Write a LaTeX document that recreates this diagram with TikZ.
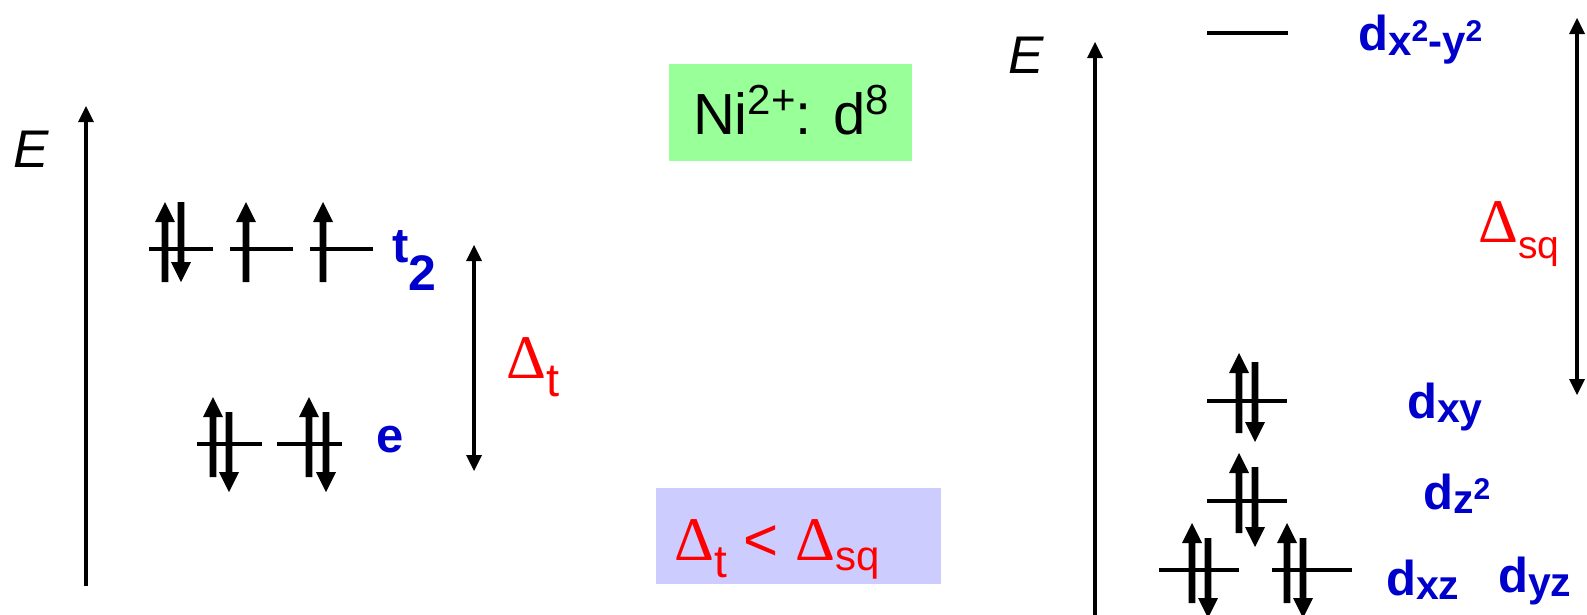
\documentclass[tikz,border=0pt]{standalone}
\usepackage{fontspec}
\setmainfont{Liberation Sans}
\newfontfamily\greekfont{Liberation Serif}
\usetikzlibrary{arrows.meta}
\definecolor{lblblue}{RGB}{0,0,204}
\definecolor{boxgreen}{RGB}{153,255,153}
\definecolor{boxblue}{RGB}{204,204,255}
\definecolor{dred}{RGB}{255,0,0}
\newcommand{\fs}[1]{\fontsize{#1}{#1}\selectfont}
\newcommand{\supb}[1]{\raisebox{14pt}{\fs{30}#1}}
\tikzset{
  level/.style={line width=4.5pt},
  axisarrow/.style={line width=4pt, -{Triangle[width=16pt,length=16pt,line width=0pt]}},
  gaparrow/.style={line width=3.5pt, {Triangle[width=16pt,length=16pt,line width=0pt]}-{Triangle[width=16pt,length=16pt,line width=0pt]}},
  elabel/.style={inner sep=0pt, anchor=base west, font=\fs{53}\itshape},
  orblabel/.style={inner sep=0pt, anchor=base west, text=lblblue, font=\fs{49}\bfseries},
  gaplabel/.style={inner sep=0pt, anchor=base west, text=dred, font=\fs{60}},
  spinup/.pic={\fill (0,0) -- (10,20) -- (3.4,20) -- (3.4,80) -- (-3.4,80) -- (-3.4,20) -- (-10,20) -- cycle;},
  spindown/.pic={\fill (0,0) -- (10,-20) -- (3.4,-20) -- (3.4,-80) -- (-3.4,-80) -- (-3.4,-20) -- (-10,-20) -- cycle;},
}
\begin{document}
\begin{tikzpicture}[x=1pt,y=-1pt]
\useasboundingbox (0,0) rectangle (1587,614);
\fill[white] (0,0) rectangle (1587,614);

% boxes
\node[fill=boxgreen, minimum width=243pt, minimum height=97pt, inner sep=0pt] (nibox) at (790.5,112.5) {};
\node[inner sep=0pt, anchor=base, font=\fs{58}] (ni) at (791,134)
  {Ni\raisebox{20pt}{\fs{42}2+}: d\raisebox{20pt}{\fs{42}8}};
\node[fill=boxblue, minimum width=285pt, minimum height=96pt, inner sep=0pt] (cmpbox) at (798.5,536) {};
\node[gaplabel] (cmp) at (674,560)
  {{\greekfont\fs{62}Δ}\raisebox{-17pt}{\fs{46}t} < {\greekfont\fs{62}Δ}\raisebox{-10pt}{\fs{42}sq}};

% ---------- left diagram ----------
\coordinate (Lb) at (86,586);
\coordinate (Lt) at (86,106);
\draw[axisarrow] (Lb) -- (Lt);
\node[elabel] (E1) at (13,167) {E};

\coordinate (t2a1) at (149,249); \coordinate (t2a2) at (213,249);
\coordinate (t2b1) at (230,249); \coordinate (t2b2) at (293,249);
\coordinate (t2c1) at (310,249); \coordinate (t2c2) at (373,249);
\draw[level] (t2a1) -- (t2a2);
\draw[level] (t2b1) -- (t2b2);
\draw[level] (t2c1) -- (t2c2);
\pic at (165,202) {spinup};
\pic at (181,282) {spindown};
\pic at (246,202) {spinup};
\pic at (323,202) {spinup};
\node[orblabel] (t2) at (392,262) {t\raisebox{-28pt}{\fs{50}2}};

\coordinate (ea1) at (197,444); \coordinate (ea2) at (262,444);
\coordinate (eb1) at (277,444); \coordinate (eb2) at (342,444);
\draw[level] (ea1) -- (ea2);
\draw[level] (eb1) -- (eb2);
\pic at (213,397) {spinup};
\pic at (229,492) {spindown};
\pic at (309,397) {spinup};
\pic at (326,492) {spindown};
\node[orblabel] (e) at (376,452) {e};

\coordinate (DtT) at (474,245);
\coordinate (DtB) at (474,471);
\draw[gaparrow] (DtT) -- (DtB);
\node[gaplabel] (Dt) at (506,378) {{\greekfont\fs{62}Δ}\raisebox{-18pt}{\fs{47}t}};

% ---------- right diagram ----------
\coordinate (Rb) at (1095,630);
\coordinate (Rt) at (1095,42);
\draw[axisarrow] (Rb) -- (Rt);
\node[elabel] (E2) at (1008,73) {E};

\coordinate (x1) at (1207,33); \coordinate (x2) at (1288,33);
\draw[level] (x1) -- (x2);
\node[orblabel] (dx2y2) at (1358,50) {d\raisebox{-5pt}{\fs{42}x\supb{2}-y\supb{2}}};

\coordinate (xy1) at (1207,401); \coordinate (xy2) at (1287,401);
\draw[level] (xy1) -- (xy2);
\pic at (1239,353) {spinup};
\pic at (1255,442) {spindown};
\node[orblabel] (dxy) at (1407,418) {d\raisebox{-4pt}{\fs{41}xy}};

\coordinate (z1) at (1207,501); \coordinate (z2) at (1287,501);
\draw[level] (z1) -- (z2);
\pic at (1239,453) {spinup};
\pic at (1255,547) {spindown};
\node[orblabel] (dz2) at (1423,509) {d\raisebox{-4pt}{\fs{41}z\supb{2}}};

\coordinate (xz1) at (1159,570); \coordinate (xz2) at (1239,570);
\coordinate (yz1) at (1272,570); \coordinate (yz2) at (1352,570);
\draw[level] (xz1) -- (xz2);
\draw[level] (yz1) -- (yz2);
\pic at (1192,523) {spinup};
\pic at (1208,618) {spindown};
\pic at (1287,523) {spinup};
\pic at (1303,618) {spindown};
\node[orblabel] (dxz) at (1386,595) {d\raisebox{-4pt}{\fs{41}xz}};
\node[orblabel] (dyz) at (1498,592) {d\raisebox{-4pt}{\fs{41}yz}};

\coordinate (DsT) at (1577,18);
\coordinate (DsB) at (1577,395);
\draw[gaparrow] (DsT) -- (DsB);
\node[gaplabel] (Dsq) at (1478,242) {{\greekfont\fs{62}Δ}\raisebox{-16pt}{\fs{39}sq}};
\end{tikzpicture}
\end{document}
